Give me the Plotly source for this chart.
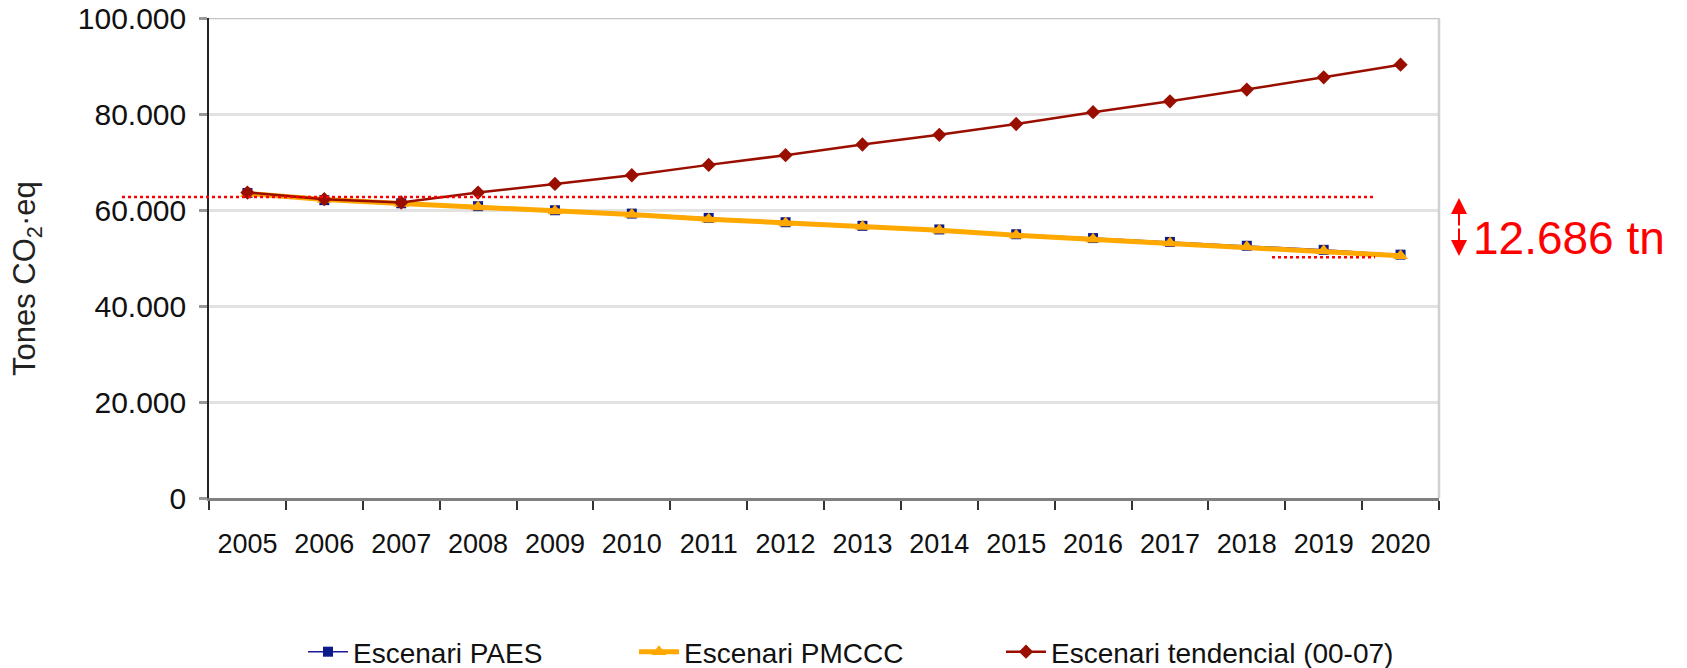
import plotly.graph_objects as go

years = [str(y) for y in range(2005, 2021)]
paes = [63550, 62050, 61400, 60800, 59950, 59250, 58350, 57450, 56700, 55950,
        54950, 54150, 53350, 52550, 51700, 50700]
pmccc = [63430, 62180, 61350, 60650, 59810, 59060, 58080, 57310, 56570, 55800,
         54760, 53920, 53150, 52320, 51490, 50450]
tendencial = [63640, 62250, 61560, 63640, 65430, 67240, 69400, 71430, 73650, 75670,
              77920, 80370, 82640, 85080, 87640, 90280]
ytick_vals = [0, 20000, 40000, 60000, 80000, 100000]
ytick_text = ["0", "20.000", "40.000", "60.000", "80.000", "100.000"]
ref_top = 62730
ref_bottom = 50180
diff_label = "12.686 tn"

FONT = "Arial, Liberation Sans, sans-serif"

fig = go.Figure()
fig.add_trace(go.Scatter(
    x=years, y=paes, name="Escenari PAES", mode="lines+markers",
    line=dict(color="#1A1A9A", width=1.5),
    marker=dict(symbol="square", size=10, color="#0D1A8C"),
    legend="legend"))
fig.add_trace(go.Scatter(
    x=years, y=pmccc, name="Escenari PMCCC", mode="lines+markers",
    line=dict(color="#FFA800", width=5),
    marker=dict(symbol="triangle-up", size=13, color="#FFA800"),
    legend="legend2"))
fig.add_trace(go.Scatter(
    x=years, y=tendencial, name="Escenari tendencial (00-07)", mode="lines+markers",
    line=dict(color="#9A0E00", width=2.5),
    marker=dict(symbol="diamond", size=11, color="#9A0E00"),
    legend="legend3"))

L, R, T, B = 209, 248, 18, 170
W, H = 1687, 668
pw = W - L - R
ph = H - T - B

def px(xpix):
    return (xpix - L) / pw

def py(ypix):
    return (H - B - ypix) / ph

shapes = [
    dict(type="line", xref="paper", yref="paper", x0=1, x1=1, y0=0, y1=1,
         line=dict(color="#D0D0D0", width=2.5)),
    dict(type="line", xref="paper", yref="y", x0=0, x1=1, y0=100000, y1=100000,
         line=dict(color="#C4C4C4", width=2.5), layer="below"),
    dict(type="line", xref="paper", yref="y", x0=px(122), x1=px(1375),
         y0=ref_top, y1=ref_top, line=dict(color="#FF0000", width=2.5, dash="dot")),
    dict(type="line", xref="paper", yref="y", x0=px(1272), x1=px(1375),
         y0=ref_bottom, y1=ref_bottom, line=dict(color="#FF0000", width=2.5, dash="dot")),
]

annotations = [
    dict(xref="paper", yref="paper", x=px(27), y=py(279), text="Tones CO<sub>2</sub>·eq",
         textangle=-90, showarrow=False, xanchor="center", yanchor="middle",
         font=dict(family=FONT, size=31, color="#222222")),
    dict(xref="paper", yref="paper", x=px(1471), y=py(238), text=diff_label,
         showarrow=False, xanchor="left", yanchor="middle",
         font=dict(family=FONT, size=46, color="#FF0000")),
    dict(xref="paper", yref="paper", x=px(1459), y=py(198), text="", showarrow=True,
         ax=0, ay=29, arrowhead=2, arrowsize=1.6, arrowwidth=2, arrowcolor="#FF0000",
         standoff=0),
    dict(xref="paper", yref="paper", x=px(1459), y=py(256), text="", showarrow=True,
         ax=0, ay=-29, arrowhead=2, arrowsize=1.6, arrowwidth=2, arrowcolor="#FF0000",
         standoff=0),
]

legend_common = dict(orientation="h", xanchor="left", yanchor="middle",
                     yref="container", y=(H - 652) / H,
                     font=dict(family=FONT, size=28, color="#111111"),
                     bgcolor="rgba(0,0,0,0)", itemwidth=40)

fig.update_layout(
    width=W, height=H,
    margin=dict(l=L, r=R, t=T, b=B),
    paper_bgcolor="white", plot_bgcolor="white",
    font=dict(family=FONT, size=26, color="#111111"),
    showlegend=True,
    legend=dict(x=px(303), **legend_common),
    legend2=dict(x=px(634), **legend_common),
    legend3=dict(x=px(1001), **legend_common),
    shapes=shapes,
    annotations=annotations,
    xaxis=dict(type="category", range=[-0.5, 15.5], showgrid=False, automargin=False,
               showline=True, linecolor="#808080", linewidth=3,
               ticks="outside", tickson="boundaries", ticklen=9, tickwidth=1.5,
               tickcolor="#333333", ticklabelstandoff=20,
               tickfont=dict(family=FONT, size=27, color="#111111")),
    yaxis=dict(range=[0, 100000], tickvals=ytick_vals, ticktext=ytick_text,
               showgrid=True, gridcolor="#E2E2E2", gridwidth=2.5, automargin=False,
               showline=True, linecolor="#222222", linewidth=1.5,
               ticks="outside", ticklen=8, tickwidth=2.5, tickcolor="#999999",
               ticklabelstandoff=7, zeroline=False,
               tickfont=dict(family=FONT, size=30, color="#111111")),
)

fig.write_html("out.html")
